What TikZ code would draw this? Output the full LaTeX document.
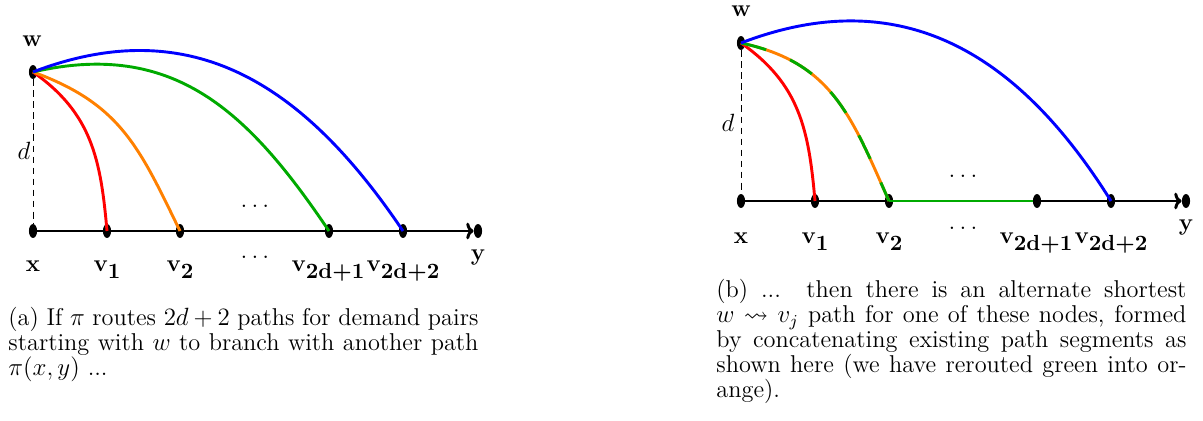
\documentclass[tikz,border=0pt]{standalone}
\usepackage{amsmath,amssymb}
\usetikzlibrary{shapes.geometric,arrows.meta}
\definecolor{pgreen}{RGB}{0,170,0}
\definecolor{porange}{RGB}{255,128,0}
\newcommand{\vlab}[1]{{\bfseries v}\raisebox{-3.3pt}{\fontsize{10.5}{12}\selectfont\bfseries #1}}
\begin{document}
\begin{tikzpicture}[x=0.4808pt,y=-0.4808pt,
  vtx/.style={ellipse, fill=black, inner sep=0pt, minimum width=3.9pt, minimum height=6.7pt},
  curve/.style={line width=1.4pt},
  axis/.style={line width=1.4pt, -{To[length=3.5pt,width=8pt]}},
  lbl/.style={anchor=base, inner sep=0pt, font=\fontsize{11.5}{13}\selectfont\bfseries},
  dlbl/.style={anchor=base, inner sep=0pt, font=\fontsize{11.7}{12}\selectfont},
  guide/.style={thin, dash pattern=on 3.3pt off 2pt},
  capt/.style={anchor=north west, inner sep=0pt, text width=226pt, align=justify,
    font=\fontsize{11.7}{12}\selectfont}]
\useasboundingbox (0,0) rectangle (1203,421);

% ---------- left panel ----------
\node[vtx] (wa) at (33,72) {};
\node[vtx] (xa) at (33,231) {};
\node[vtx] (v1a) at (107,231) {};
\node[vtx] (v2a) at (180,231) {};
\node[vtx] (vpa) at (329,231) {};
\node[vtx] (vqa) at (403,231) {};
\node[vtx] (ya) at (478,231) {};
\draw[guide] (wa) -- (xa);
\draw[axis] (xa.center) -- (ya);
\draw[curve, red] (wa.center) to[out=-35,in=95,looseness=1.05] (v1a.center);
\draw[curve, porange] (wa.center) to[out=-20,in=116,looseness=1.1] (v2a.center);
\draw[curve, pgreen] (wa.center) to[out=13,in=124,looseness=1.1] (vpa.center);
\draw[curve, blue] (wa.center) to[out=21,in=124,looseness=1.1] (vqa.center);
\node[lbl] (lwa) at (32,47) {w};
\node[lbl] (lxa) at (33,272) {x};
\node[lbl] (lv1a) at (107,272) {\vlab{1}};
\node[lbl] (lv2a) at (180,272) {\vlab{2}};
\node[lbl] (lvpa) at (328,272) {\vlab{2d+1}};
\node[lbl] (lvqa) at (403,272) {\vlab{2d+2}};
\node[lbl] (lya) at (478,261) {y};
\node[dlbl, font=\fontsize{13}{15}\selectfont] (da) at (24,160) {$d$};
\node[dlbl] (dotsa1) at (255,207.5) {$\ldots$};
\node[dlbl] (dotsa2) at (255,258.5) {$\ldots$};

% ---------- right panel ----------
\node[vtx] (wb) at (741,43) {};
\node[vtx] (xb) at (741,201) {};
\node[vtx] (v1b) at (815,201) {};
\node[vtx] (v2b) at (889,201) {};
\node[vtx] (vpb) at (1037,201) {};
\node[vtx] (vqb) at (1111,201) {};
\node[vtx] (yb) at (1186,201) {};
\draw[guide] (wb) -- (xb);
\draw[axis] (xb.center) -- (yb);
\draw[curve, red] (wb.center) to[out=-35,in=95,looseness=1.05] (v1b.center);
\draw[curve, porange] (wb.center) to[out=-12,in=114,looseness=1.1] (v2b.center);
\draw[curve, pgreen, dash pattern=on 12.5pt off 12.5pt] (wb.center) to[out=-12,in=114,looseness=1.1] (v2b.center);
\draw[curve, pgreen] (v2b.center) -- (vpb.west);
\draw[curve, blue] (wb.center) to[out=21,in=122,looseness=1.1] (vqb.center);
\node[lbl] (lwb) at (741,17) {w};
\node[lbl] (lxb) at (741,244) {x};
\node[lbl] (lv1b) at (815,244) {\vlab{1}};
\node[lbl] (lv2b) at (889,244) {\vlab{2}};
\node[lbl] (lvpb) at (1036,244) {\vlab{2d+1}};
\node[lbl] (lvqb) at (1111,244) {\vlab{2d+2}};
\node[lbl] (lyb) at (1186,231) {y};
\node[dlbl, font=\fontsize{13}{15}\selectfont] (db) at (728,132) {$d$};
\node[dlbl] (dotsb1) at (963,177.5) {$\ldots$};
\node[dlbl] (dotsb2) at (963,229.5) {$\ldots$};

% ---------- captions ----------
\node[capt] (capa) at (8,306.7) {(a) If $\pi$ routes $2d+2$ paths for demand pairs starting with $w$ to branch with another path $\pi(x,y)$ ...};
\node[capt] (capb) at (716,278.7) {(b) ... then there is an alternate shortest $w \rightsquigarrow v_j$ path for one of these nodes, formed by concatenating existing path segments as shown here (we have rerouted green into orange).};
\end{tikzpicture}
\end{document}
